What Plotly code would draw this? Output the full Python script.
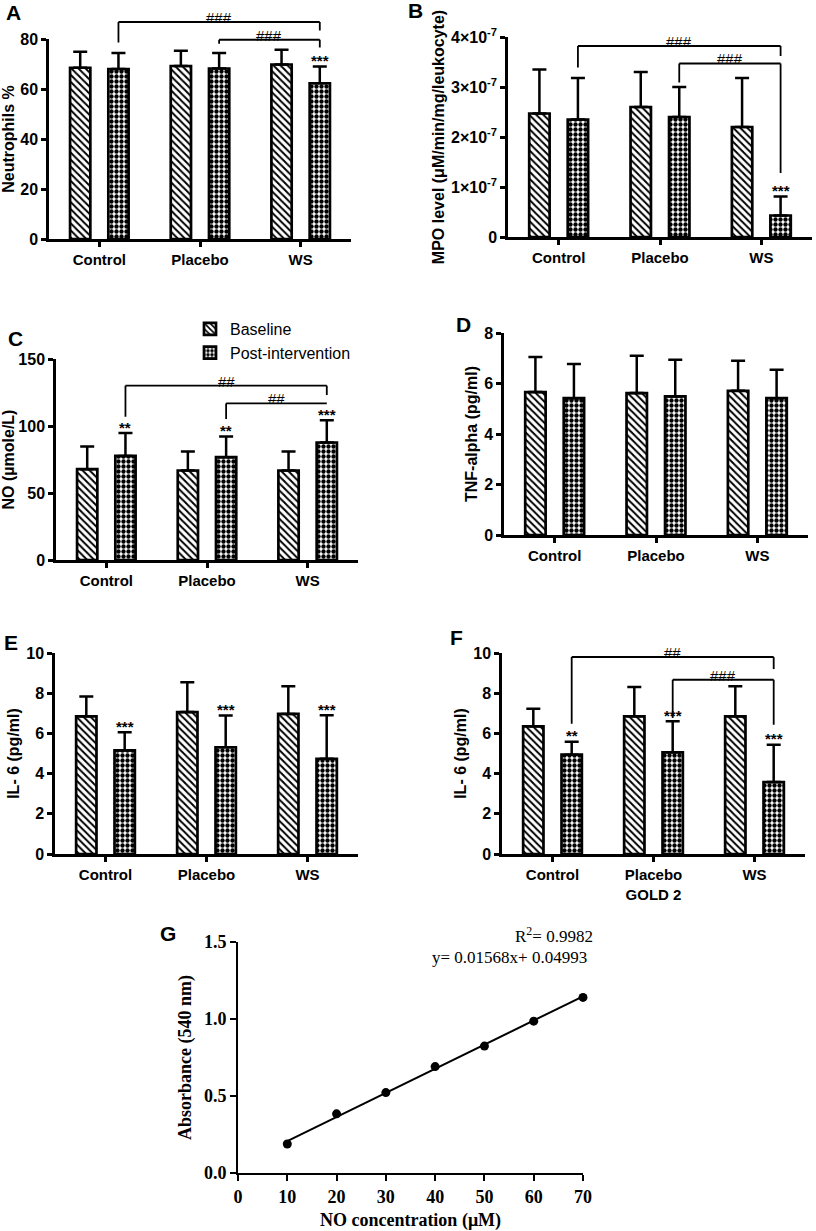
import plotly.graph_objects as go

W, H = 816, 1231
SANS = "Arial, Liberation Sans, sans-serif"
SERIF = "Times New Roman, Liberation Serif, serif"

groups = ["Control", "Placebo", "WS"]

# A - neutrophils %
neut_base = [68.5, 69.2, 69.8]
neut_base_sd = [6.4, 6.1, 5.9]
neut_post = [68.0, 68.2, 62.3]
neut_post_sd = [6.4, 6.2, 6.7]

# B - MPO level
mpo_base = [2.47e-7, 2.60e-7, 2.20e-7]
mpo_base_sd = [0.88e-7, 0.70e-7, 0.98e-7]
mpo_post = [2.35e-7, 2.40e-7, 0.43e-7]
mpo_post_sd = [0.83e-7, 0.60e-7, 0.38e-7]

# C - NO
no_base = [67.8, 66.8, 66.8]
no_base_sd = [16.9, 14.2, 14.2]
no_post = [77.7, 76.7, 87.7]
no_post_sd = [17.0, 15.5, 16.5]

# D - TNF-alpha
tnf_base = [5.66, 5.62, 5.71]
tnf_base_sd = [1.39, 1.48, 1.19]
tnf_post = [5.42, 5.49, 5.42]
tnf_post_sd = [1.35, 1.45, 1.12]

# E - IL-6
il6_base = [6.85, 7.06, 6.97]
il6_base_sd = [0.98, 1.49, 1.38]
il6_post = [5.16, 5.31, 4.74]
il6_post_sd = [0.90, 1.58, 2.16]

# F - IL-6, GOLD 2
il6g2_base = [6.35, 6.85, 6.85]
il6g2_base_sd = [0.88, 1.46, 1.49]
il6g2_post = [4.94, 5.06, 3.58]
il6g2_post_sd = [0.65, 1.54, 1.86]

# G - NO standard curve
no_conc = [10, 20, 30, 40, 50, 60, 70]
absorbance = [0.188, 0.384, 0.522, 0.691, 0.824, 0.986, 1.14]
fit_slope, fit_intercept = 0.01568, 0.04993

# stars over post-intervention bars
neut_stars = ["", "", "***"]
mpo_stars = ["", "", "***"]
no_stars = ["**", "**", "***"]
tnf_stars = ["", "", ""]
il6_stars = ["***", "***", "***"]
il6g2_stars = ["**", "***", "***"]

# brackets: (from group, to group, line y, left leg end, right leg end, label)
neut_brackets = [(0, 2, 86.8, 78.6, 83.4, "###"), (1, 2, 79.7, 78.1, 76.6, "###")]
mpo_brackets = [(0, 2, 3.82e-7, 3.39e-7, 3.62e-7, "###"), (1, 2, 3.47e-7, 3.09e-7, 1.28e-7, "###")]
no_brackets = [(0, 2, 130.1, 106.9, 123.1, "##"), (1, 2, 116.9, 105.2, 116.9, "##")]
il6g2_brackets = [(0, 2, 9.80, 6.48, 9.20, "##"), (1, 2, 8.67, 6.77, 6.43, "###")]

neut_ticks = [0, 20, 40, 60, 80]
mpo_ticks = [0, 1e-7, 2e-7, 3e-7, 4e-7]
mpo_ticktext = ["0", "1×10<sup>-7</sup>", "2×10<sup>-7</sup>", "3×10<sup>-7</sup>", "4×10<sup>-7</sup>"]
no_ticks = [0, 50, 100, 150]
tnf_ticks = [0, 2, 4, 6, 8]
il6_ticks = [0, 2, 4, 6, 8, 10]

panels = [
    dict(letter="A", base=neut_base, base_sd=neut_base_sd, post=neut_post, post_sd=neut_post_sd,
         stars=neut_stars, brackets=neut_brackets, title="Neutrophils %", ticks=neut_ticks,
         ticktext=None, box=(49, 351, 39, 239), lpos=(13, 13)),
    dict(letter="B", base=mpo_base, base_sd=mpo_base_sd, post=mpo_post, post_sd=mpo_post_sd,
         stars=mpo_stars, brackets=mpo_brackets, title="MPO level (μM/min/mg/leukocyte)",
         ticks=mpo_ticks, ticktext=mpo_ticktext, box=(508, 812, 37, 237), lpos=(415, 10)),
    dict(letter="C", base=no_base, base_sd=no_base_sd, post=no_post, post_sd=no_post_sd,
         stars=no_stars, brackets=no_brackets, title="NO (µmole/L)", ticks=no_ticks,
         ticktext=None, box=(56, 358, 359, 560), lpos=(15, 339)),
    dict(letter="D", base=tnf_base, base_sd=tnf_base_sd, post=tnf_post, post_sd=tnf_post_sd,
         stars=tnf_stars, brackets=[], title="TNF-alpha (pg/ml)", ticks=tnf_ticks,
         ticktext=None, box=(504, 808, 333, 535), lpos=(463, 324)),
    dict(letter="E", base=il6_base, base_sd=il6_base_sd, post=il6_post, post_sd=il6_post_sd,
         stars=il6_stars, brackets=[], title="IL- 6 (pg/ml)", ticks=il6_ticks,
         ticktext=None, box=(55, 358, 653, 854), lpos=(11, 642)),
    dict(letter="F", base=il6g2_base, base_sd=il6g2_base_sd, post=il6g2_post, post_sd=il6g2_post_sd,
         stars=il6g2_stars, brackets=il6g2_brackets, title="IL- 6 (pg/ml)", ticks=il6_ticks,
         ticktext=None, box=(502, 805, 653, 854), lpos=(456, 637), xtitle="GOLD 2"),
]

XR = [-0.5, 2.5]
BARGAP = 0.24
OFF = (1 - BARGAP) / 4  # centre offset of each bar in a group


def fx(i, side):
    return (i + side * OFF - XR[0]) / (XR[1] - XR[0])


def dom(box):
    l, r, t, b = box
    return [l / W, r / W], [1 - b / H, 1 - t / H]


fig = go.Figure()
shapes, annotations = [], []
layout = {}

for k, p in enumerate(panels, start=1):
    xa = "x" if k == 1 else f"x{k}"
    ya = "y" if k == 1 else f"y{k}"
    ymax = p["ticks"][-1]
    show = p["letter"] == "C"

    fig.add_trace(go.Bar(
        x=groups, y=p["base"], name="Baseline", xaxis=xa, yaxis=ya,
        legendgroup="base", showlegend=show,
        marker=dict(color="white", line=dict(color="black", width=2.7),
                    pattern=dict(shape="\\", fgcolor="black", bgcolor="white", size=5, solidity=0.4)),
        error_y=dict(type="data", array=p["base_sd"], arrayminus=[0, 0, 0], symmetric=False,
                     color="black", thickness=2.5, width=7),
    ))
    fig.add_trace(go.Bar(
        x=groups, y=p["post"], name="Post-intervention", xaxis=xa, yaxis=ya,
        legendgroup="post", showlegend=show,
        marker=dict(color="white", line=dict(color="black", width=2.7),
                    pattern=dict(shape=".", fgcolor="black", bgcolor="white", size=5, solidity=0.6)),
        error_y=dict(type="data", array=p["post_sd"], arrayminus=[0, 0, 0], symmetric=False,
                     color="black", thickness=2.5, width=7),
    ))

    xd, yd = dom(p["box"])
    xkey = "xaxis" if k == 1 else f"xaxis{k}"
    ykey = "yaxis" if k == 1 else f"yaxis{k}"
    layout[xkey] = dict(
        domain=xd, anchor=ya, type="category", range=XR, showline=True, linewidth=2.5,
        linecolor="black", ticks="outside", ticklen=5, tickwidth=2.5, tickcolor="black",
        tickfont=dict(family=SANS, size=15, color="black", weight="bold"),
        showgrid=False, zeroline=False, automargin=False,
    )
    if p.get("xtitle"):
        layout[xkey]["title"] = dict(text=p["xtitle"], standoff=8,
                                     font=dict(family=SANS, size=15, color="black", weight="bold"))
    layout[ykey] = dict(
        domain=yd, anchor=xa, range=[0, ymax], tickvals=p["ticks"],
        ticktext=p["ticktext"] if p["ticktext"] else [str(v) for v in p["ticks"]],
        showline=True, linewidth=2.5, linecolor="black", ticks="outside", ticklen=5,
        tickwidth=2.5, tickcolor="black",
        tickfont=dict(family=SANS, size=16, color="black", weight="bold"),
        showgrid=False, zeroline=False, automargin=False,
        title=dict(text=p["title"], standoff=3,
                   font=dict(family=SANS, size=16, color="black", weight="bold")),
    )

    # stars above post-intervention error bars
    for i, s in enumerate(p["stars"]):
        if s:
            annotations.append(dict(
                text=s, x=fx(i, 1), y=(p["post"][i] + p["post_sd"][i]) / ymax,
                xref=f"{xa} domain", yref=f"{ya} domain", showarrow=False,
                xanchor="center", yanchor="middle", yshift=6,
                font=dict(family=SANS, size=15, color="black", weight="bold"),
            ))

    # significance brackets
    for g0, g1, yl, leg0, leg1, lab in p["brackets"]:
        x0, x1 = fx(g0, 1), fx(g1, 1)
        segs = [(x0, leg0, x0, yl), (x0, yl, x1, yl), (x1, yl, x1, leg1)]
        for a0, b0, a1, b1 in segs:
            shapes.append(dict(
                type="line", xref=f"{xa} domain", yref=f"{ya} domain",
                x0=a0, y0=b0 / ymax, x1=a1, y1=b1 / ymax,
                line=dict(color="black", width=1.8),
            ))
        annotations.append(dict(
            text=lab, x=(x0 + x1) / 2, y=yl / ymax, xref=f"{xa} domain", yref=f"{ya} domain",
            showarrow=False, xanchor="center", yanchor="bottom", yshift=-6,
            font=dict(family=SANS, size=15, color="black"),
        ))

    annotations.append(dict(
        text=p["letter"], x=p["lpos"][0] / W, y=1 - p["lpos"][1] / H, xref="paper", yref="paper",
        showarrow=False, xanchor="center", yanchor="middle",
        font=dict(family=SANS, size=21, color="black", weight="bold"),
    ))

# G - standard curve
fig.add_trace(go.Scatter(
    x=[no_conc[0], no_conc[-1]],
    y=[fit_slope * no_conc[0] + fit_intercept, fit_slope * no_conc[-1] + fit_intercept],
    mode="lines", line=dict(color="black", width=2), xaxis="x7", yaxis="y7", showlegend=False,
))
fig.add_trace(go.Scatter(
    x=no_conc, y=absorbance, mode="markers", marker=dict(color="black", size=9),
    xaxis="x7", yaxis="y7", showlegend=False, cliponaxis=False,
))

xd, yd = dom((238, 583, 942, 1173))
layout["xaxis7"] = dict(
    domain=xd, anchor="y7", range=[0, 70], dtick=10, showline=True, linewidth=2,
    linecolor="black", ticks="outside", ticklen=6, tickwidth=2, tickcolor="black",
    tickfont=dict(family=SERIF, size=18, color="black", weight="bold"),
    showgrid=False, zeroline=False, automargin=False,
    title=dict(text="NO concentration (μM)", standoff=8,
               font=dict(family=SERIF, size=18, color="black", weight="bold")),
)
layout["yaxis7"] = dict(
    domain=yd, anchor="x7", range=[0, 1.5], dtick=0.5, tickformat=".1f", showline=True,
    linewidth=2, linecolor="black", ticks="outside", ticklen=6, tickwidth=2, tickcolor="black",
    tickfont=dict(family=SERIF, size=18, color="black", weight="bold"),
    showgrid=False, zeroline=False, automargin=False,
    title=dict(text="Absorbance (540 nm)", standoff=8,
               font=dict(family=SERIF, size=18, color="black", weight="bold")),
)
annotations += [
    dict(text="G", x=168 / W, y=1 - 933 / H, xref="paper", yref="paper", showarrow=False,
         xanchor="center", yanchor="middle",
         font=dict(family=SANS, size=21, color="black", weight="bold")),
    dict(text="R<sup>2</sup>= 0.9982", x=595 / W, y=1 - 935 / H, xref="paper", yref="paper",
         xanchor="right", yanchor="middle", showarrow=False,
         font=dict(family=SERIF, size=17, color="black")),
    dict(text="y= 0.01568x+ 0.04993", x=589 / W, y=1 - 957 / H, xref="paper", yref="paper",
         xanchor="right", yanchor="middle", showarrow=False,
         font=dict(family=SERIF, size=17, color="black")),
]

fig.update_layout(
    width=W, height=H, margin=dict(l=0, r=0, t=0, b=0),
    template="none", plot_bgcolor="white", paper_bgcolor="white",
    barmode="group", bargap=BARGAP, bargroupgap=0.47,
    legend=dict(x=190 / W, y=1 - 312 / H, xanchor="left", yanchor="top",
                font=dict(family=SANS, size=16, color="black"), bgcolor="rgba(0,0,0,0)",
                itemwidth=30, traceorder="normal"),
    shapes=shapes, annotations=annotations,
    **layout,
)

# the page's default body margin would shift the figure by 8px
fig.write_html("out.html", config={"displayModeBar": False},
               post_script="document.body.style.margin = '0';")
